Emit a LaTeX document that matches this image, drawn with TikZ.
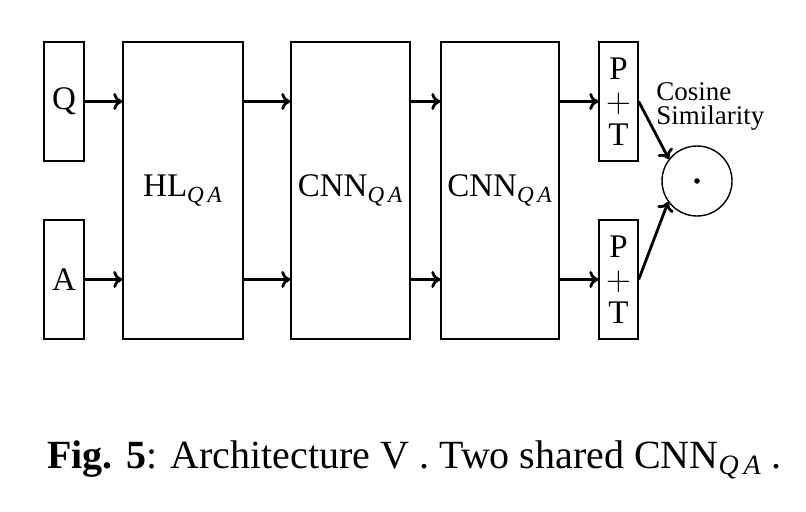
\documentclass[tikz,border=0pt]{standalone}
\usepackage{fontspec}
\setmainfont{Liberation Serif}
\usetikzlibrary{arrows.meta}
\newcommand{\qasub}{\textsubscript{\itshape Q\,A}}
\begin{document}
\begin{tikzpicture}[x=0.5pt,y=-0.5pt,
  box/.style={draw,line width=0.7pt,inner sep=0pt,align=center,
    font=\fontsize{16.5}{16.5}\selectfont},
  arr/.style={line width=1.4pt,-{To[length=4.5pt,width=8.5pt]}},
]
\useasboundingbox (0,0) rectangle (806,512);
\node[box,minimum width=20pt,minimum height=59.5pt] (Q) at (64,101.5) {Q};
\node[box,minimum width=20pt,minimum height=59.5pt] (A) at (64,279.5) {A};
\node[box,minimum width=60pt,minimum height=148.5pt] (HL) at (183,190.5) {HL\qasub};
\node[box,minimum width=59.5pt,minimum height=148.5pt] (C1) at (350.5,190.5) {CNN\qasub};
\node[box,minimum width=59pt,minimum height=148.5pt] (C2) at (500,190.5) {CNN\qasub};
\node[box,minimum width=19.5pt,minimum height=59.5pt] (P1) at (618.5,101.5) {P\\$+$\\T};
\node[box,minimum width=19.5pt,minimum height=59.5pt] (P2) at (618.5,279.5) {P\\$+$\\T};
\node[draw,line width=0.7pt,circle,minimum size=35pt,inner sep=0pt] (S) at (697,181) {};
\fill (S.center) circle (1.4pt);
\node[anchor=north west,inner sep=0pt,align=left,
  font=\fontsize{13.5}{12}\selectfont] (cs) at (656,82) {Cosine\\Similarity};
\draw[arr] (Q.east) -- (Q.east -| HL.west);
\draw[arr] (A.east) -- (A.east -| HL.west);
\draw[arr] (HL.east |- Q.east) -- (C1.west |- Q.east);
\draw[arr] (HL.east |- A.east) -- (C1.west |- A.east);
\draw[arr] (C1.east |- Q.east) -- (C2.west |- Q.east);
\draw[arr] (C1.east |- A.east) -- (C2.west |- A.east);
\draw[arr] (C2.east |- Q.east) -- (P1.west);
\draw[arr] (C2.east |- A.east) -- (P2.west);
\draw[arr] (P1.east) -- (S.142);
\draw[arr] (P2.east) -- (S.216);
\node[anchor=base,inner sep=0pt,font=\fontsize{20}{24}\selectfont] (cap) at (414.5,468)
  {\textbf{Fig. 5}: Architecture V . Two shared CNN\qasub\ .};
\end{tikzpicture}
\end{document}
